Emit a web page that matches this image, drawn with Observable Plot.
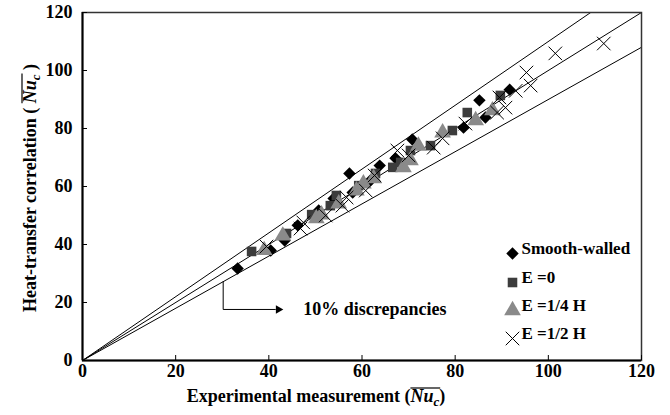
<!DOCTYPE html>
<html>
<head>
<meta charset="utf-8">
<script src="https://cdn.jsdelivr.net/npm/d3@7"></script>
<script src="https://cdn.jsdelivr.net/npm/@observablehq/plot@0.6"></script>
<style>
  body { margin: 0; background: #fff; }
  #chart svg { display: block; }
  #chart svg text { font-family: "Liberation Serif", "Times New Roman", serif; font-weight: bold; }
</style>
</head>
<body>
<div id="chart"></div>
<script>
// Axis ticks
const xTicks = [0, 20, 40, 60, 80, 100, 120];
const yTicks = [0, 20, 40, 60, 80, 100, 120];

// Smooth-walled channel
const smoothX = [33.3, 40.4, 43.4, 46.2, 50.7, 53.9, 57.3, 58.0, 61.8, 63.8, 67.2, 70.8, 81.8, 85.2, 86.5, 91.7];
const smoothY = [31.7, 37.9, 41.4, 46.6, 51.7, 55.9, 64.5, 57.9, 62.1, 67.2, 69.7, 76.2, 80.3, 89.7, 83.8, 93.4];

// E = 0
const e0X = [36.3, 43.8, 49.2, 53.2, 54.5, 59.3, 62.9, 66.6, 68.3, 70.4, 74.7, 79.4, 82.6, 89.7];
const e0Y = [37.6, 43.8, 50.3, 53.4, 56.9, 60.3, 64.5, 66.6, 68.3, 72.4, 74.1, 79.3, 85.5, 91.4];

// E = 1/4 H
const eQuarterX = [39.0, 43.0, 50.2, 51.3, 55.0, 58.8, 60.3, 62.5, 68.9, 70.4, 72.1, 77.3, 84.4, 88.0];
const eQuarterY = [38.0, 43.0, 49.0, 50.3, 54.1, 58.6, 61.0, 62.8, 66.6, 69.0, 74.0, 78.6, 82.8, 86.2];

// E = 1/2 H
const eHalfX = [39.5, 46.8, 47.4, 52.2, 55.8, 56.7, 60.8, 62.7, 67.6, 70.0, 75.4, 77.3, 82.2, 89.0, 89.5, 90.8, 93.0, 95.3, 96.2, 101.5, 111.9];
const eHalfY = [39.3, 45.5, 47.6, 50.0, 53.4, 56.2, 58.6, 63.8, 72.4, 70.7, 73.4, 76.6, 81.7, 85.5, 90.7, 87.2, 93.0, 99.3, 94.8, 105.9, 109.3];

// Parity line and the ±10% band
const bandRatios = [0.9, 1.0, 1.1];

const seriesNames = ["Smooth-walled", "E =0", "E =1/4 H", "E =1/2 H"];

const series = [
  {name: seriesNames[0], xs: smoothX,   ys: smoothY,   symbol: "diamond2", fill: "#000000", stroke: "none",  r: 5.6},
  {name: seriesNames[1], xs: e0X,       ys: e0Y,       symbol: "square",   fill: "#3c3c3c", stroke: "none",  r: 5.4},
  {name: seriesNames[2], xs: eQuarterX, ys: eQuarterY, symbol: "triangle", fill: "#8a8a8a", stroke: "none",  r: 6.2},
  {name: seriesNames[3], xs: eHalfX,    ys: eHalfY,    symbol: "times",    fill: "none",    stroke: "#000000", r: 6.2}
];

const toRows = s => s.xs.map((x, i) => ({x, y: s.ys[i]}));
const xMax = d3.max(xTicks);
const yMax = d3.max(yTicks);
const bandLines = bandRatios.map(r => [{x: 0, y: 0}, {x: xMax, y: xMax * r}]);

// Leader to the band annotation
const note = {text: "10% discrepancies", x: 30.2, yBend: 17.6, xArrow: 41.4, xText: 47.4};
const leader = [
  {x: note.x, y: note.x * bandRatios[0]},
  {x: note.x, y: note.yBend},
  {x: note.xArrow, y: note.yBend}
];

const W = 670, H = 415;
const M = {left: 82, right: 29, top: 12, bottom: 55};
const innerW = W - M.left - M.right;
const innerH = H - M.top - M.bottom;
const tickLen = 5;
const legendDy = [-107, -78, -50, -22];
const serif = "Liberation Serif";

const marks = [
  // band lines, clipped at the frame
  ...bandLines.map(l => Plot.line(l, {x: "x", y: "y", stroke: "#000", strokeWidth: 1, clip: true})),
  // data
  ...series.map(s => Plot.dot(toRows(s), {
    x: "x", y: "y", symbol: () => s.symbol, r: s.r,
    fill: s.fill, stroke: s.stroke, strokeWidth: 1
  })),
  // annotation
  Plot.line(leader, {x: "x", y: "y", stroke: "#000", strokeWidth: 1}),
  Plot.dot([leader[2]], {x: "x", y: "y", symbol: "triangle", rotate: 90, r: 3.2, fill: "#000", dx: 3}),
  Plot.text([note], {x: "xText", y: "yBend", text: "text", textAnchor: "start", fontSize: 18, fontFamily: serif, fontWeight: "bold", fill: "#000"}),
  // legend inside the plot area
  ...series.map((s, i) => Plot.dot([s], {
    frameAnchor: "bottom-right", dx: -129, dy: legendDy[i],
    symbol: () => s.symbol, r: s.r, fill: s.fill, stroke: s.stroke, strokeWidth: 1
  })),
  ...series.map((s, i) => Plot.text([s], {
    frameAnchor: "bottom-right", dx: -120, dy: legendDy[i], text: "name",
    textAnchor: "start", fontSize: 17, fontFamily: serif, fontWeight: "bold", fill: "#000"
  })),
  // frame, inward ticks and axes
  Plot.frame({stroke: "#333", strokeWidth: 1.5}),
  Plot.tickX(xTicks, {x: d => d, insetTop: innerH - tickLen, stroke: "#000", strokeWidth: 1}),
  Plot.tickY(yTicks, {y: d => d, insetRight: innerW - tickLen, stroke: "#000", strokeWidth: 1}),
  Plot.axisX({ticks: xTicks, tickSize: 0, tickPadding: 4, tickFormat: d => d, fontSize: 18, fontFamily: serif, fontWeight: "bold", label: null}),
  Plot.axisY({ticks: yTicks, tickSize: 0, tickPadding: 10, tickFormat: d => d, fontSize: 18, fontFamily: serif, fontWeight: "bold", label: null}),
  Plot.ruleX([0], {stroke: "#000", strokeWidth: 2}),
  Plot.ruleY([0], {stroke: "#000", strokeWidth: 2})
];

const chart = Plot.plot({
  width: W,
  height: H,
  marginLeft: M.left,
  marginRight: M.right,
  marginTop: M.top,
  marginBottom: M.bottom,
  style: {color: "#000", background: "#fff", fontFamily: serif},
  x: {domain: [0, xMax]},
  y: {domain: [0, yMax]},
  marks
});

document.getElementById("chart").appendChild(chart);

// Axis titles with an overlined, subscripted Nu_c
const svg = d3.select(chart);
function addTitle(label, tx, ty, angle, gap, size) {
  const g = svg.append("g").attr("transform", `translate(${tx},${ty}) rotate(${angle})`);
  const t = g.append("text")
    .attr("text-anchor", "middle")
    .attr("font-size", size)
    .attr("fill", "#000");
  t.append("tspan").text(label + " (" + gap);
  t.append("tspan").attr("font-style", "italic").text("Nu");
  t.append("tspan").attr("font-style", "italic").attr("font-size", 13).attr("dy", 4).text("c");
  t.append("tspan").attr("dy", -4).text(gap + ")");
  const node = t.node();
  const start = label.length + 2 + gap.length;
  const x0 = node.getStartPositionOfChar(start).x;
  const x1 = node.getEndPositionOfChar(start + 2).x;
  g.append("line")
    .attr("x1", x0).attr("x2", x1 + 1)
    .attr("y1", -14).attr("y2", -14)
    .attr("stroke", "#000").attr("stroke-width", 1.2);
}
addTitle("Experimental measurement", 316, 402, 0, "", 18);
addTitle("Heat-transfer correlation", 36, 188, -90, " ", 18);
</script>
</body>
</html>
